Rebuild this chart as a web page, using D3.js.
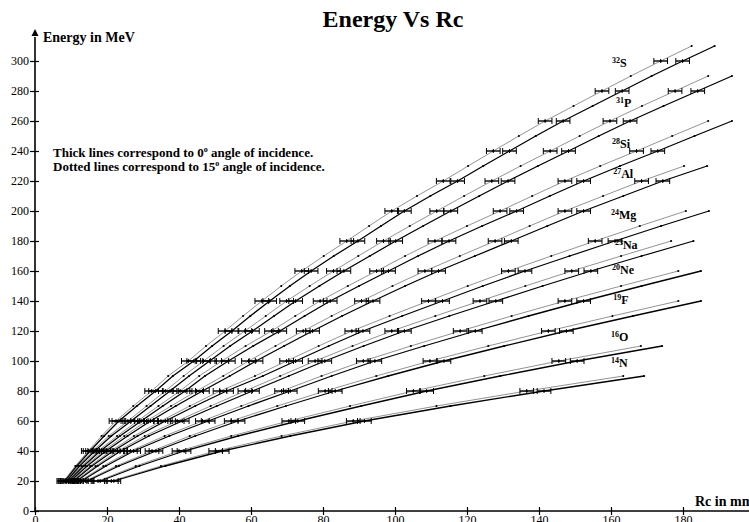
<!DOCTYPE html>
<html>
<head>
<meta charset="utf-8">
<script src="https://cdnjs.cloudflare.com/ajax/libs/d3/7.8.5/d3.min.js"></script>
<style>
  body { margin: 0; background: #fff; }
  svg { display: block; }
</style>
</head>
<body>
<div id="chart"></div>
<script>
// ions, mass numbers and the last energy (MeV) of each curve
var symbols = ["S", "P", "Si", "Al", "Mg", "Na", "Ne", "F", "O", "N"];
var massNumbers = ["32", "31", "28", "27", "24", "23", "20", "19", "16", "14"];
var maxEnergy = [310, 290, 260, 230, 200, 180, 160, 140, 110, 90];

// Rc in mm, read every 10 MeV starting at 20 MeV
// "15" = 15 degree incidence (dotted), "0" = 0 degree (thick)
var rcS15 = [8.0, 11.2, 14.8, 18.5, 22.5, 27.3, 32.4, 37.0, 42.6, 47.5, 52.8, 57.8, 63.0, 68.4, 74.1, 80.2, 86.6, 92.8, 99.1, 106.1, 113.4, 120.3, 127.3, 134.4, 141.7, 149.6, 157.5, 165.5, 173.8, 182.4];
var rcS0  = [8.3, 11.6, 15.3, 19.2, 23.3, 28.3, 33.5, 38.3, 44.1, 49.2, 54.7, 59.8, 65.2, 70.8, 76.7, 83.0, 89.7, 96.1, 102.6, 109.8, 117.4, 124.5, 131.8, 139.1, 146.7, 154.9, 163.1, 171.3, 179.9, 188.8];
var rcP15 = [8.5, 12.0, 16.0, 20.5, 25.8, 31.0, 36.2, 41.3, 46.8, 52.4, 58.3, 64.1, 69.9, 76.3, 82.9, 89.8, 96.8, 104.1, 111.6, 119.2, 126.9, 134.9, 143.1, 151.3, 159.7, 168.6, 177.8, 187.0];
var rcP0  = [8.8, 12.4, 16.6, 21.2, 26.7, 32.1, 37.5, 42.8, 48.5, 54.2, 60.4, 66.4, 72.4, 79.0, 85.8, 93.0, 100.2, 107.8, 115.5, 123.4, 131.4, 139.7, 148.2, 156.6, 165.3, 174.6, 184.1, 193.6];
var rcSi15 = [9.0, 13.0, 17.5, 22.8, 28.5, 34.3, 40.3, 45.6, 51.9, 58.5, 65.7, 72.3, 79.2, 86.9, 94.9, 102.8, 111.1, 120.0, 129.2, 138.1, 147.2, 157.0, 167.1, 177.0, 187.0];
var rcSi0  = [9.3, 13.5, 18.1, 23.6, 29.5, 35.5, 41.7, 47.2, 53.7, 60.6, 68.0, 74.9, 82.0, 90.0, 98.2, 106.4, 115.0, 124.2, 133.8, 143.0, 152.4, 162.5, 173.0, 183.2, 193.6];
var rcAl15 = [9.6, 14.0, 19.0, 24.8, 31.0, 37.8, 44.9, 52.3, 59.3, 66.8, 74.5, 82.4, 90.7, 99.3, 108.3, 118.0, 127.8, 137.4, 147.2, 157.8, 168.5, 180.3];
var rcAl0  = [9.9, 14.5, 19.7, 25.7, 32.1, 39.1, 46.5, 54.1, 61.4, 69.2, 77.1, 85.3, 93.9, 102.8, 112.1, 122.2, 132.3, 142.3, 152.4, 163.4, 174.4, 186.7];
var rcMg15 = [10.3, 15.3, 21.0, 27.5, 35.0, 43.0, 51.4, 61.1, 69.9, 78.8, 88.0, 98.5, 109.3, 120.2, 131.5, 143.4, 155.6, 168.0, 180.8];
var rcMg0  = [10.7, 15.8, 21.7, 28.5, 36.2, 44.5, 53.2, 63.3, 72.4, 81.6, 91.1, 102.0, 113.2, 124.4, 136.1, 148.5, 161.1, 173.9, 187.2];
var rcNa15 = [11.2, 16.8, 23.0, 30.5, 39.5, 48.8, 58.3, 68.1, 77.8, 88.2, 99.1, 111.2, 123.6, 136.2, 149.1, 162.8, 176.7];
var rcNa0  = [11.6, 17.4, 23.8, 31.6, 40.9, 50.5, 60.4, 70.5, 80.5, 91.3, 102.6, 115.1, 128.0, 141.0, 154.4, 168.5, 182.9];
var rcNe15 = [12.5, 19.0, 26.5, 36.0, 46.5, 57.3, 68.5, 79.6, 91.2, 104.4, 118.1, 132.4, 147.2, 162.8, 178.7];
var rcNe0  = [12.9, 19.7, 27.4, 37.3, 48.1, 59.3, 70.9, 82.4, 94.4, 108.1, 122.3, 137.1, 152.4, 168.5, 185.0];
var rcF15 = [14.0, 22.5, 32.5, 43.0, 54.5, 67.3, 80.6, 94.8, 109.7, 125.9, 142.6, 160.4, 178.7];
var rcF0  = [14.5, 23.3, 33.6, 44.5, 56.4, 69.7, 83.4, 98.1, 113.6, 130.3, 147.6, 166.1, 185.0];
var rcO15 = [17.5, 28.0, 40.0, 54.5, 70.5, 87.5, 105.1, 124.8, 145.5, 168.3];
var rcO0  = [18.1, 29.0, 41.4, 56.4, 73.0, 90.6, 108.8, 129.2, 150.6, 174.2];
var rcN15 = [21.2, 35.0, 50.2, 68.5, 88.4, 111.5, 136.6, 163.4];
var rcN0  = [21.9, 36.2, 52.0, 70.9, 91.5, 115.4, 141.4, 169.2];

var rc15 = [rcS15, rcP15, rcSi15, rcAl15, rcMg15, rcNa15, rcNe15, rcF15, rcO15, rcN15];
var rc0 = [rcS0, rcP0, rcSi0, rcAl0, rcMg0, rcNa0, rcNe0, rcF0, rcO0, rcN0];

// half width of the horizontal error bars (mm), drawn every 20 MeV
var rcError = 1.9;

var xTicks = [0, 20, 40, 60, 80, 100, 120, 140, 160, 180];
var yTicks = [0, 20, 40, 60, 80, 100, 120, 140, 160, 180, 200, 220, 240, 260, 280, 300];

// where the ion labels sit, in data units
var labelRc = [160.3, 161.4, 160.3, 160.6, 160.0, 161.1, 160.3, 160.6, 160.0, 160.0];
var labelE = [296, 269.3, 242, 222, 194.7, 174.7, 158, 138, 113.3, 96];

var width = 749, height = 522;
var serif = "'Liberation Serif', 'Times New Roman', serif";

var svg = d3.select("#chart")
  .append("svg")
    .attr("width", width)
    .attr("height", height)
    .style("font-family", serif);

var x = d3.scaleLinear().domain([0, 200]).range([35, 755]);
var y = d3.scaleLinear().domain([0, 300]).range([511, 61]);

// build the curves
var curves = [];
for (var i = 0; i < symbols.length; i++) {
  var energies = d3.range(20, maxEnergy[i] + 1, 10);
  [rc15[i], rc0[i]].forEach(function(vals, k) {
    curves.push({
      ion: symbols[i],
      thick: k == 1,
      max: maxEnergy[i],
      points: energies.map(function(e, j) { return {e: e, rc: vals[j]}; })
    });
  });
}

var line = d3.line()
  .x(function(d) { return x(d.rc); })
  .y(function(d) { return y(d.e); });

var plot = svg.append("g");

plot.selectAll("path.curve")
  .data(curves)
  .enter()
  .append("path")
    .attr("class", "curve")
    .attr("d", function(d) { return line(d.points); })
    .attr("fill", "none")
    .attr("stroke", function(d) { return d.thick ? "#000" : "#777"; })
    .attr("stroke-width", function(d) { return d.thick ? 1.3 : 0.8; });

// small dots on every reading
curves.forEach(function(c) {
  plot.append("g")
    .selectAll("circle")
    .data(c.points)
    .enter()
    .append("circle")
      .attr("cx", function(d) { return x(d.rc); })
      .attr("cy", function(d) { return y(d.e); })
      .attr("r", 1.1)
      .attr("fill", "#000");
});

// error bars at every 20 MeV (not at the end point)
var bars = [];
curves.forEach(function(c) {
  c.points.forEach(function(p) {
    if (p.e % 20 == 0 && p.e < c.max) bars.push(p);
  });
});

var barG = plot.selectAll("g.bar")
  .data(bars)
  .enter()
  .append("g")
    .attr("class", "bar")
    .attr("stroke", "#000")
    .attr("stroke-width", 1);

barG.append("line")
  .attr("x1", function(d) { return x(d.rc - rcError); })
  .attr("x2", function(d) { return x(d.rc + rcError); })
  .attr("y1", function(d) { return y(d.e); })
  .attr("y2", function(d) { return y(d.e); })
  .attr("stroke-width", 1.4);
[-1, 1].forEach(function(s) {
  barG.append("line")
    .attr("x1", function(d) { return x(d.rc + s * rcError); })
    .attr("x2", function(d) { return x(d.rc + s * rcError); })
    .attr("y1", function(d) { return y(d.e) - 3; })
    .attr("y2", function(d) { return y(d.e) + 3; });
});
barG.append("line")
  .attr("x1", function(d) { return x(d.rc); })
  .attr("x2", function(d) { return x(d.rc); })
  .attr("y1", function(d) { return y(d.e) - 2; })
  .attr("y2", function(d) { return y(d.e) + 2; });

// axes
var yAxis = svg.append("g")
  .attr("transform", "translate(" + x(0) + ",0)")
  .call(d3.axisLeft(y).tickValues(yTicks).tickSize(5).tickPadding(1));
yAxis.select(".domain").remove();
yAxis.selectAll(".tick line").attr("x1", 4).attr("stroke-width", 1.2);
yAxis.selectAll("text").style("font-family", serif).style("font-size", "12px").attr("fill", "#000");

var xAxis = svg.append("g")
  .attr("transform", "translate(0," + y(0) + ")")
  .call(d3.axisBottom(x).tickValues(xTicks).tickSize(4).tickPadding(0));
xAxis.select(".domain").remove();
xAxis.selectAll(".tick line").attr("y1", -4).attr("stroke-width", 1.2);
xAxis.selectAll("text").style("font-family", serif).style("font-size", "12px").attr("fill", "#000");

svg.append("line")
  .attr("x1", x(0)).attr("x2", width)
  .attr("y1", y(0)).attr("y2", y(0))
  .attr("stroke", "#000").attr("stroke-width", 1.6);
svg.append("line")
  .attr("x1", x(0)).attr("x2", x(0))
  .attr("y1", y(0)).attr("y2", y(316))
  .attr("stroke", "#000").attr("stroke-width", 1.6);
svg.append("path")
  .attr("d", "M" + x(0) + "," + (y(320) - 2) + "l-3.5,7h7z")
  .attr("fill", "#000");

// titles
svg.append("text")
  .attr("x", 393).attr("y", 27)
  .attr("text-anchor", "middle")
  .style("font-size", "24px").style("font-weight", "bold")
  .text("Energy Vs Rc");

svg.append("text")
  .attr("x", 43).attr("y", 42)
  .style("font-size", "14px").style("font-weight", "bold")
  .text("Energy in MeV");

svg.append("text")
  .attr("x", 695).attr("y", 506)
  .style("font-size", "14px").style("font-weight", "bold")
  .text("Rc in mm");

// note about the two line styles
var notes = [["Thick lines correspond to 0", " angle of incidence."],
             ["Dotted lines correspond to 15", " angle of incidence."]];
notes.forEach(function(n, i) {
  var t = svg.append("text")
    .attr("x", 53).attr("y", 157 + i * 13.5)
    .style("font-size", "13px").style("font-weight", "bold");
  t.append("tspan").text(n[0]);
  t.append("tspan").attr("dy", -5).style("font-size", "8px").text("o");
  t.append("tspan").attr("dy", 5).text(n[1]);
});

// ion labels
for (var i = 0; i < symbols.length; i++) {
  var t = svg.append("text")
    .attr("x", x(labelRc[i])).attr("y", y(labelE[i]))
    .style("font-weight", "bold");
  t.append("tspan").attr("dy", -4).style("font-size", "8px").text(massNumbers[i]);
  t.append("tspan").attr("dy", 4).style("font-size", "12px").text(symbols[i]);
}
</script>
</body>
</html>
